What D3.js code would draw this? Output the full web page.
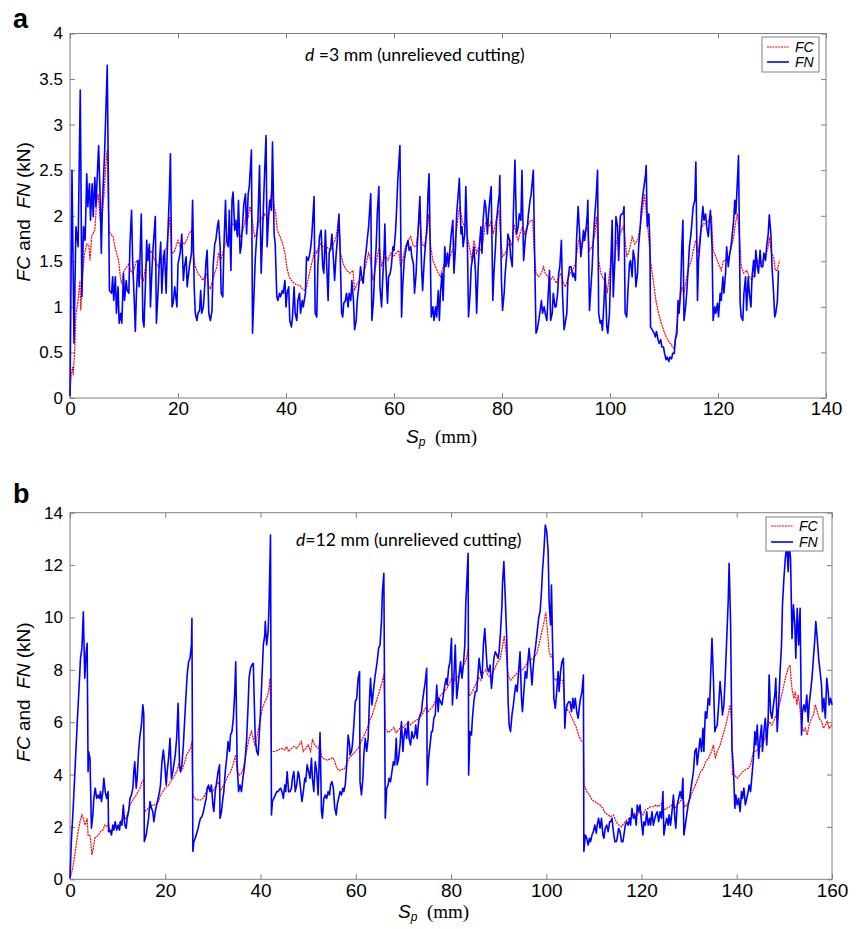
<!DOCTYPE html>
<html><head><meta charset="utf-8">
<script src="https://cdn.jsdelivr.net/npm/d3@7"></script>
<style>body{margin:0;background:#fff}svg{display:block}</style>
</head><body>
<script>
// ---------- DATA (x: Sp in mm, y: force in kN) ----------
const xTicksA = [0,20,40,60,80,100,120,140];
const yTicksA = [0,0.5,1,1.5,2,2.5,3,3.5,4];
const xTicksB = [0,20,40,60,80,100,120,140,160];
const yTicksB = [0,2,4,6,8,10,12,14];
const seriesNames = ["FC","FN"];
const annotA = ["d"," =3 mm (unrelieved cutting)"];
const annotB = ["d","=12 mm (unrelieved cutting)"];

const fnA = [[0,0.02],[0.37,2.5],[0.74,0.6],[1.1,1.88],[1.5,1.66],[1.9,3.38],[2.2,1.11],[2.5,1.88],[2.8,1.73],[3.1,2.46],[3.3,2.10],[3.6,2.35],[3.8,1.95],[4.1,2.35],[4.3,1.99],[4.6,2.42],[4.8,2.10],[5.1,2.50],[5.3,2.77],[5.6,2.17],[5.8,1.59],[6.0,2.13],[6.4,2.68],[6.9,3.65],[7.2,1.80],[7.3,1.18],[7.7,1.15],[7.9,1.33],[8.1,1.07],[8.4,1.33],[8.6,0.93],[8.9,1.22],[9.1,0.82],[9.4,0.93],[9.6,0.82],[9.9,1.37],[10.1,1.07],[10.4,1.29],[10.6,1.18],[10.9,1.15],[11.1,1.69],[11.4,2.06],[11.6,1.51],[11.9,1.07],[12.1,0.73],[12.3,1.15],[12.6,1.51],[12.8,1.22],[13.2,2.02],[13.5,0.85],[13.7,0.78],[14.0,1.29],[14.2,1.73],[14.4,1.51],[14.7,1.69],[14.9,1.00],[15.2,1.44],[15.4,1.66],[15.8,1.99],[16.0,0.82],[16.3,1.15],[16.5,1.44],[16.8,1.71],[17.0,1.15],[17.3,1.51],[17.5,1.62],[17.8,1.15],[18.0,1.59],[18.4,2.24],[18.6,2.68],[18.9,1.00],[19.1,1.04],[19.4,1.22],[19.8,1.00],[20.0,1.47],[20.4,1.59],[20.7,1.80],[21.0,1.29],[21.2,1.44],[21.5,1.55],[21.7,1.22],[22.1,1.44],[22.5,1.59],[22.7,2.17],[23.0,1.22],[23.2,0.93],[23.5,0.85],[23.7,0.93],[24.0,0.96],[24.2,1.18],[24.4,0.93],[24.7,1.00],[24.9,1.18],[25.2,1.51],[25.4,1.62],[25.7,0.93],[26.0,0.85],[26.3,0.96],[26.5,1.44],[26.8,1.69],[27.0,1.73],[27.3,1.88],[27.5,1.95],[27.8,1.66],[28.0,1.15],[28.3,1.11],[28.5,1.66],[28.8,2.17],[29.0,1.73],[29.3,1.66],[29.5,2.06],[29.8,1.40],[30.0,2.17],[30.2,2.26],[30.5,1.84],[30.7,1.95],[31.0,1.77],[31.2,2.17],[31.5,1.59],[31.7,1.66],[32.0,1.95],[32.2,2.13],[32.5,2.24],[32.7,1.80],[33.0,2.24],[33.2,2.32],[33.6,2.72],[33.8,0.71],[34.1,1.18],[34.3,1.51],[34.6,1.80],[34.8,1.95],[35.1,2.55],[35.4,1.37],[35.7,1.88],[35.9,2.24],[36.3,2.88],[36.5,1.66],[36.8,2.02],[37.0,2.17],[37.3,2.06],[37.5,2.81],[37.8,1.80],[38.0,1.69],[38.3,1.11],[38.5,1.07],[38.8,1.15],[39.0,1.11],[39.3,1.18],[39.5,1.15],[39.8,1.29],[40.0,1.00],[40.2,1.15],[40.5,1.22],[40.7,0.85],[41.0,0.78],[41.2,0.89],[41.5,1.22],[41.7,0.93],[42.0,0.85],[42.2,1.07],[42.5,1.15],[42.7,0.93],[43.0,1.07],[43.2,1.00],[43.6,1.15],[43.8,1.55],[44.1,1.51],[44.3,1.55],[44.6,1.66],[44.8,1.80],[45.2,2.21],[45.4,0.93],[45.7,0.89],[45.9,1.44],[46.2,1.77],[46.5,1.84],[46.8,1.44],[47.0,1.37],[47.3,1.84],[47.5,1.51],[47.8,1.07],[48.0,1.59],[48.3,1.66],[48.5,1.80],[48.8,1.51],[49.0,1.29],[49.3,1.59],[49.5,1.73],[49.8,2.02],[50.0,1.66],[50.3,0.93],[50.5,0.89],[50.7,1.04],[51.0,1.07],[51.2,1.15],[51.5,1.00],[51.7,1.15],[52.0,1.07],[52.2,1.29],[52.5,1.07],[52.7,0.75],[53.0,0.85],[53.2,1.07],[53.6,1.29],[53.8,1.44],[54.1,1.29],[54.3,1.26],[54.6,1.51],[54.8,1.59],[55.1,1.77],[55.3,1.88],[55.6,2.17],[55.7,2.24],[55.9,0.85],[56.2,1.07],[56.4,1.37],[56.7,1.66],[56.9,2.02],[57.2,2.32],[57.4,1.22],[57.7,1.00],[57.9,1.29],[58.2,1.66],[58.3,1.91],[58.5,1.44],[58.8,1.04],[59.0,1.33],[59.3,1.37],[59.5,1.44],[59.8,1.66],[60.0,1.62],[60.3,1.84],[60.5,2.10],[60.7,2.39],[61.1,2.77],[61.4,0.89],[61.6,1.22],[61.9,1.51],[62.1,1.59],[62.3,1.66],[62.6,1.73],[62.8,1.62],[63.1,1.66],[63.3,1.55],[63.6,1.47],[63.8,1.15],[64.1,1.37],[64.3,1.66],[64.6,1.99],[64.8,2.21],[65.1,1.44],[65.3,1.18],[65.6,1.51],[65.8,1.66],[66.1,1.88],[66.3,2.24],[66.5,2.46],[66.9,0.89],[67.2,1.00],[67.4,0.85],[67.7,1.00],[67.9,0.89],[68.2,1.18],[68.4,0.85],[68.6,1.15],[68.9,1.37],[69.1,1.07],[69.4,1.66],[69.6,1.44],[69.9,1.59],[70.1,1.44],[70.4,1.66],[70.6,1.80],[70.9,1.95],[71.1,1.37],[71.4,1.66],[71.6,2.02],[71.9,2.24],[72.1,2.41],[72.4,1.80],[72.6,1.88],[72.8,1.66],[73.1,1.80],[73.3,2.32],[73.6,1.66],[73.8,0.89],[74.1,1.15],[74.3,1.44],[74.6,1.55],[74.8,1.66],[75.1,1.37],[75.3,0.93],[75.6,1.44],[75.8,1.66],[76.1,1.88],[76.3,1.59],[76.5,1.95],[76.8,2.17],[77.0,2.10],[77.3,1.80],[77.5,2.02],[77.8,2.21],[78.0,2.32],[78.3,1.07],[78.5,1.37],[78.8,1.66],[79.0,1.95],[79.3,2.13],[79.5,2.24],[79.6,2.44],[79.9,1.29],[80.1,0.96],[80.4,1.15],[80.6,1.37],[80.9,1.59],[81.1,1.80],[81.4,1.73],[81.6,1.55],[81.9,1.44],[82.1,2.02],[82.4,2.61],[82.7,1.80],[83.0,1.88],[83.2,2.02],[83.5,1.95],[83.7,2.50],[84.0,1.51],[84.2,1.66],[84.4,1.80],[84.7,1.88],[84.9,2.02],[85.2,2.17],[85.4,2.24],[85.8,2.50],[86.1,1.37],[86.3,0.71],[86.5,0.74],[86.8,0.85],[87.0,0.93],[87.3,1.07],[87.5,0.93],[87.8,1.00],[88.0,0.93],[88.3,0.85],[88.5,1.07],[88.8,1.40],[89.0,0.85],[89.3,0.93],[89.5,1.15],[89.8,1.00],[90.0,1.00],[90.3,1.15],[90.5,1.37],[90.7,1.44],[91.0,1.73],[91.2,1.15],[91.5,0.75],[91.7,0.82],[92.0,0.93],[92.2,1.29],[92.5,1.44],[92.8,1.44],[93.1,1.33],[93.3,1.37],[93.6,1.29],[93.8,1.73],[94.1,2.10],[94.3,1.88],[94.6,1.55],[94.8,1.66],[95.1,1.84],[95.3,1.73],[95.6,1.88],[95.8,2.02],[95.9,2.17],[96.2,0.96],[96.4,1.15],[96.7,1.44],[96.9,1.73],[97.2,2.02],[97.4,2.17],[97.7,2.50],[97.9,0.93],[98.2,0.82],[98.4,0.85],[98.6,0.74],[98.9,1.07],[99.1,1.37],[99.4,0.78],[99.6,0.71],[99.9,0.93],[100.1,1.37],[100.4,1.95],[100.6,1.11],[100.9,1.51],[101.1,1.99],[101.4,1.88],[101.6,1.51],[101.9,1.99],[102.1,2.02],[102.4,2.02],[102.6,2.10],[102.8,0.93],[103.1,0.89],[103.3,1.15],[103.6,1.47],[103.8,1.51],[104.1,1.33],[104.3,1.62],[104.6,1.51],[104.8,1.22],[105.1,1.37],[105.3,1.66],[105.6,1.88],[105.8,2.06],[106.1,2.24],[106.3,2.32],[106.6,2.46],[106.7,2.55],[106.9,1.88],[107.2,2.02],[107.4,1.66],[107.5,0.78],[107.9,0.74],[108.2,0.71],[108.4,0.67],[108.6,0.73],[108.9,0.64],[109.1,0.60],[109.4,0.64],[109.6,0.56],[109.9,0.56],[110.1,0.49],[110.4,0.42],[110.6,0.45],[110.9,0.40],[111.1,0.45],[111.4,0.43],[111.6,0.49],[111.9,0.49],[112.1,0.64],[112.4,0.71],[112.6,1.07],[112.8,0.93],[113.1,1.22],[113.3,1.66],[113.5,1.95],[113.7,0.85],[114.0,1.00],[114.2,1.15],[114.5,1.44],[114.7,1.66],[115.0,1.80],[115.2,1.95],[115.4,2.10],[115.7,2.17],[115.9,2.59],[116.2,1.07],[116.4,1.51],[116.7,1.73],[116.9,1.88],[117.2,2.10],[117.4,1.95],[117.7,2.02],[117.9,1.88],[118.2,1.77],[118.4,1.95],[118.6,2.06],[118.9,1.66],[119.1,0.85],[119.4,1.00],[119.6,0.93],[119.9,1.04],[120.1,0.89],[120.4,1.15],[120.6,1.07],[120.9,1.33],[121.1,1.15],[121.4,1.37],[121.6,1.66],[121.9,1.44],[122.1,1.55],[122.4,1.66],[122.6,1.77],[122.9,1.95],[123.1,2.17],[123.3,2.02],[123.6,2.39],[123.8,2.66],[124.1,1.04],[124.3,0.89],[124.6,0.85],[124.8,1.15],[125.1,1.33],[125.3,0.96],[125.6,1.33],[125.8,1.15],[126.1,1.00],[126.3,1.33],[126.6,1.51],[126.8,1.33],[127.0,1.62],[127.3,1.44],[127.5,1.37],[127.8,1.62],[128.0,1.44],[128.3,1.44],[128.5,1.59],[128.8,1.51],[129.0,1.66],[129.3,1.80],[129.5,2.01],[129.8,1.80],[130.0,1.44],[130.3,1.15],[130.5,0.89],[130.7,0.93],[131.0,1.07],[131.2,1.40]];

const fcA = [[0,0.05],[0.25,0.27],[0.5,0.34],[0.6,0.25],[0.9,0.56],[1.1,0.93],[1.5,1.07],[1.85,1.29],[2.0,0.96],[2.35,1.37],[2.7,1.59],[3.1,1.69],[3.5,1.68],[3.7,1.51],[4.0,1.77],[4.2,1.80],[4.6,1.84],[4.9,2.13],[5.2,2.24],[5.6,1.95],[5.9,1.95],[6.3,2.24],[6.7,2.61],[6.9,2.72],[7.2,1.84],[7.5,1.80],[8.0,1.77],[8.3,1.66],[8.8,1.55],[9.0,1.51],[9.4,1.29],[9.6,1.26],[10.0,1.40],[10.5,1.44],[10.9,1.47],[11.2,1.40],[11.6,1.37],[12.0,1.44],[12.3,1.51],[12.7,1.47],[13.2,1.33],[13.6,1.29],[14.0,1.44],[14.4,1.55],[14.9,1.62],[15.4,1.55],[15.8,1.51],[16.3,1.44],[16.7,1.47],[17.0,1.51],[17.4,1.59],[17.9,1.66],[18.3,1.88],[18.5,1.99],[18.8,1.59],[19.3,1.60],[19.6,1.66],[20.0,1.73],[20.4,1.66],[20.7,1.71],[21.2,1.69],[21.6,1.73],[22.0,1.80],[22.5,1.84],[22.8,1.59],[23.2,1.44],[23.7,1.37],[24.2,1.33],[24.6,1.29],[24.9,1.33],[25.3,1.37],[25.7,1.22],[26.0,1.20],[26.4,1.29],[26.8,1.37],[27.2,1.44],[27.5,1.59],[27.9,1.51],[28.3,1.59],[28.6,1.66],[29.0,1.73],[29.4,1.80],[29.8,1.88],[30.1,1.91],[30.5,1.88],[30.9,1.84],[31.2,1.80],[31.6,1.77],[32.0,1.84],[32.3,1.91],[32.7,2.02],[33.0,1.99],[33.3,2.10],[33.6,2.02],[34.0,1.84],[34.2,1.77],[34.6,1.80],[34.9,1.91],[35.3,1.99],[35.7,1.95],[36.0,2.02],[36.4,1.99],[36.7,1.95],[37.0,2.13],[37.4,2.32],[37.8,2.10],[38.1,2.02],[38.4,1.84],[38.9,1.77],[39.4,1.69],[39.8,1.59],[40.2,1.42],[40.6,1.33],[41.0,1.29],[41.5,1.26],[42.0,1.24],[42.5,1.24],[43.0,1.20],[43.5,1.18],[43.8,1.22],[44.2,1.33],[44.6,1.44],[44.9,1.51],[45.3,1.62],[45.7,1.59],[46.0,1.66],[46.4,1.69],[46.9,1.66],[47.5,1.66],[48.2,1.62],[48.8,1.69],[49.3,1.77],[49.8,1.99],[50.1,1.59],[50.6,1.47],[51.2,1.40],[51.9,1.37],[52.4,1.40],[52.7,1.18],[53.2,1.26],[53.7,1.29],[54.3,1.33],[54.8,1.47],[55.3,1.59],[55.7,1.51],[56.1,1.29],[56.4,1.37],[56.9,1.55],[57.3,1.66],[57.7,1.44],[58.0,1.51],[58.5,1.55],[58.9,1.51],[59.4,1.59],[59.9,1.55],[60.4,1.59],[60.9,1.62],[61.2,1.44],[61.6,1.51],[62.1,1.66],[62.6,1.73],[63.1,1.77],[63.6,1.66],[64.1,1.66],[64.6,1.91],[64.8,1.95],[65.2,1.69],[65.6,1.66],[66.1,1.80],[66.4,2.02],[66.8,1.66],[67.2,1.51],[67.7,1.44],[68.2,1.37],[68.6,1.33],[69.1,1.44],[69.6,1.51],[70.1,1.47],[70.6,1.59],[71.1,1.66],[71.5,1.80],[71.9,2.02],[72.2,2.10],[72.6,1.95],[73.0,1.88],[73.3,1.91],[73.7,1.73],[74.1,1.62],[74.4,1.51],[74.8,1.73],[75.3,1.59],[75.7,1.66],[76.1,1.62],[76.5,1.73],[76.9,1.91],[77.3,1.95],[77.7,1.88],[78.0,1.95],[78.4,1.80],[78.9,1.95],[79.4,2.06],[79.8,1.73],[80.1,1.55],[80.6,1.59],[81.1,1.66],[81.5,1.73],[81.9,1.66],[82.2,1.91],[82.6,1.80],[83.0,1.73],[83.3,1.80],[83.8,1.88],[84.2,1.80],[84.6,1.88],[84.9,1.91],[85.3,1.95],[85.7,1.95],[85.9,1.66],[86.3,1.37],[86.8,1.33],[87.3,1.37],[87.7,1.44],[88.0,1.37],[88.5,1.33],[88.9,1.29],[89.4,1.33],[89.8,1.29],[90.1,1.26],[90.5,1.33],[90.9,1.37],[91.4,1.26],[91.7,1.22],[92.1,1.29],[92.6,1.37],[93.1,1.40],[93.6,1.48],[94.0,1.66],[94.3,1.75],[94.8,1.66],[95.3,1.80],[95.8,1.88],[96.2,1.62],[96.7,1.66],[97.2,1.80],[97.5,1.99],[97.9,1.51],[98.3,1.37],[98.6,1.33],[99.1,1.29],[99.5,1.15],[99.9,1.37],[100.3,1.55],[100.7,1.40],[101.1,1.66],[101.5,1.80],[101.9,1.80],[102.4,1.88],[102.7,1.80],[103.1,1.55],[103.6,1.62],[104.1,1.77],[104.6,1.69],[105.1,1.73],[105.6,1.88],[106.1,2.10],[106.4,2.24],[106.8,1.99],[107.2,1.73],[107.5,1.51],[108.0,1.29],[108.5,1.07],[109.0,0.93],[109.5,0.82],[109.9,0.75],[110.4,0.67],[110.9,0.62],[111.4,0.58],[111.9,0.54],[112.2,0.71],[112.6,0.93],[113.0,1.07],[113.3,1.22],[113.7,1.15],[114.1,1.29],[114.6,1.44],[115.1,1.51],[115.4,1.62],[115.9,1.73],[116.3,1.59],[116.8,1.84],[117.3,1.91],[117.8,1.91],[118.3,1.95],[118.8,1.99],[119.1,1.62],[119.6,1.55],[120.1,1.47],[120.6,1.40],[121.0,1.51],[121.5,1.51],[122.0,1.55],[122.5,1.66],[122.9,1.77],[123.2,1.91],[123.6,2.02],[124.0,1.77],[124.3,1.44],[124.8,1.37],[125.3,1.40],[125.8,1.33],[126.3,1.29],[126.8,1.37],[127.3,1.51],[127.8,1.47],[128.3,1.51],[128.8,1.55],[129.3,1.66],[129.5,1.77],[129.9,1.59],[130.3,1.55],[130.6,1.40],[131.0,1.40],[131.4,1.51]];

const fnB = [[0,0.04],[0.28,1.44],[0.7,2.84],[1.1,4.37],[1.5,5.89],[2.0,7.68],[2.2,8.44],[2.5,8.82],[2.8,10.22],[2.9,9.33],[3.1,7.68],[3.4,8.69],[3.6,9.01],[3.8,4.11],[3.9,4.88],[4.2,4.62],[4.5,1.95],[4.8,2.46],[5.0,3.09],[5.3,3.48],[5.6,3.09],[5.9,3.22],[6.2,3.09],[6.4,3.35],[6.6,2.97],[6.9,3.35],[7.1,3.86],[7.4,3.35],[7.7,3.09],[8.0,3.35],[8.1,1.82],[8.4,1.88],[8.7,1.69],[9.0,2.07],[9.2,1.88],[9.5,2.20],[9.8,1.88],[10.1,2.07],[10.4,1.88],[10.6,2.20],[10.9,2.07],[11.2,2.84],[11.5,2.07],[11.8,1.95],[12.0,2.33],[12.3,2.58],[12.6,3.09],[12.9,3.22],[13.2,3.48],[13.4,4.11],[13.6,4.49],[13.9,3.48],[14.1,3.86],[14.4,4.88],[14.7,5.51],[15.0,5.89],[15.3,6.66],[15.5,6.28],[15.6,1.44],[16.0,1.69],[16.2,1.95],[16.5,2.33],[16.8,2.97],[17.1,2.71],[17.4,2.58],[17.6,2.20],[17.9,2.58],[18.2,2.84],[18.5,3.09],[18.8,3.35],[19.0,3.60],[19.3,4.49],[19.6,4.94],[19.9,4.37],[20.2,3.60],[20.4,4.11],[20.7,4.62],[21.0,5.38],[21.3,3.86],[21.6,4.11],[21.8,4.37],[22.1,4.75],[22.4,5.38],[22.7,6.72],[23.0,4.37],[23.2,4.11],[23.5,4.37],[23.8,5.13],[24.1,6.15],[24.4,7.17],[24.6,7.80],[24.9,8.31],[25.2,8.44],[25.5,8.95],[25.6,9.97],[25.8,1.06],[26.0,1.44],[26.3,1.57],[26.6,1.76],[26.9,1.95],[27.2,2.20],[27.4,2.33],[27.7,2.39],[28.0,2.58],[28.3,2.84],[28.6,3.09],[28.8,3.48],[29.1,3.60],[29.4,3.35],[29.7,3.60],[30.0,2.84],[30.2,2.58],[30.5,3.35],[30.8,3.73],[31.1,4.11],[31.4,4.37],[31.5,2.33],[31.8,2.58],[32.1,3.09],[32.3,3.35],[32.6,4.11],[32.9,4.62],[33.2,5.26],[33.5,4.88],[33.7,5.51],[34.0,5.64],[34.3,6.15],[34.6,7.17],[34.8,8.31],[35.1,4.37],[35.4,3.35],[35.7,3.60],[36.0,3.35],[36.3,3.86],[36.5,4.11],[36.8,4.62],[37.1,5.38],[37.4,6.66],[37.6,7.68],[37.9,8.06],[38.2,8.18],[38.5,8.25],[38.6,7.42],[38.9,5.38],[39.2,4.88],[39.5,4.75],[39.7,5.38],[40.0,6.40],[40.3,7.68],[40.6,8.95],[40.9,9.33],[41.0,9.84],[41.3,8.95],[41.6,9.46],[41.8,10.48],[42.1,13.15],[42.3,2.46],[42.5,2.97],[42.8,3.09],[43.1,3.22],[43.4,3.35],[43.7,3.35],[43.9,3.41],[44.2,3.48],[44.5,3.35],[44.8,3.09],[45.1,3.60],[45.3,3.35],[45.6,4.11],[45.9,3.35],[46.2,3.35],[46.5,3.48],[46.7,3.86],[47.0,4.11],[47.3,3.35],[47.6,3.60],[47.9,4.11],[48.1,3.98],[48.4,3.48],[48.7,2.97],[49.0,3.35],[49.3,3.86],[49.5,3.73],[49.8,4.37],[50.1,4.11],[50.4,3.86],[50.7,4.62],[50.9,3.86],[51.2,3.35],[51.5,4.49],[51.8,4.11],[52.1,3.22],[52.5,5.6],[52.8,2.6],[53.0,2.33],[53.3,3.09],[53.6,3.22],[53.9,3.09],[54.2,3.35],[54.5,3.22],[54.7,3.60],[55.0,3.73],[55.3,3.48],[55.6,2.71],[55.9,2.46],[56.1,2.84],[56.4,3.09],[56.7,3.35],[57.0,3.22],[57.3,3.48],[57.5,3.35],[57.8,3.60],[58.1,4.37],[58.4,5.51],[58.7,5.13],[58.8,4.75],[59.1,4.88],[59.3,5.13],[59.6,5.89],[59.9,6.78],[60.2,6.91],[60.5,7.68],[60.8,7.93],[60.9,3.73],[61.2,3.22],[61.5,3.86],[61.7,4.75],[62.0,5.38],[62.3,4.88],[62.6,5.38],[62.9,6.91],[63.1,7.68],[63.4,6.66],[63.7,7.17],[64.0,7.68],[64.2,7.93],[64.5,8.31],[64.8,8.82],[65.1,8.95],[65.4,9.84],[65.6,10.99],[65.9,11.69],[66.2,2.33],[66.5,3.48],[66.8,3.60],[67.0,3.86],[67.3,3.73],[67.6,4.11],[67.9,4.49],[68.2,4.37],[68.5,5.38],[68.7,4.37],[69.0,4.62],[69.3,5.13],[69.6,6.02],[69.9,4.88],[70.1,5.38],[70.4,5.77],[70.7,5.38],[71.0,6.02],[71.2,5.38],[71.5,5.13],[71.8,5.64],[72.1,5.38],[72.4,5.51],[72.6,5.89],[72.9,5.38],[73.2,6.02],[73.5,6.28],[73.8,6.40],[74.0,6.78],[74.3,7.17],[74.6,7.55],[74.9,8.06],[75.0,3.60],[75.3,4.62],[75.6,5.13],[75.9,5.64],[76.1,5.64],[76.4,6.15],[76.7,6.28],[77.0,7.42],[77.3,6.40],[77.5,6.91],[77.8,6.78],[78.1,6.66],[78.4,7.04],[78.7,7.42],[79.0,7.68],[79.2,7.42],[79.5,8.06],[79.8,8.31],[80.1,9.20],[80.3,6.66],[80.6,7.68],[80.9,8.95],[81.2,6.91],[81.5,7.42],[81.7,7.80],[82.0,8.31],[82.3,7.68],[82.6,8.18],[82.9,8.95],[83.1,10.48],[83.6,12.45],[83.7,3.98],[84.0,5.64],[84.3,5.51],[84.5,6.15],[84.8,6.78],[85.1,7.17],[85.4,7.17],[85.7,7.93],[85.9,8.44],[86.2,7.93],[86.5,7.68],[86.8,8.95],[87.1,9.58],[87.3,8.95],[87.6,8.06],[87.9,7.93],[88.2,8.18],[88.5,7.29],[88.7,7.68],[89.0,8.44],[89.3,8.69],[89.6,8.57],[89.9,8.44],[90.1,8.69],[90.4,9.46],[90.7,10.48],[90.8,11.24],[91.1,12.13],[91.4,10.73],[91.7,9.20],[92.0,6.78],[92.2,5.89],[92.5,5.64],[92.8,6.28],[93.1,6.66],[93.4,7.17],[93.6,7.42],[93.9,7.17],[94.2,7.93],[94.5,8.69],[94.8,6.91],[95.0,6.40],[95.3,7.17],[95.6,7.93],[95.9,7.68],[96.2,8.44],[96.4,8.82],[96.7,8.18],[97.0,7.42],[97.3,8.18],[97.6,8.69],[97.8,8.95],[98.1,9.46],[98.4,9.97],[98.7,10.22],[99.0,10.99],[99.2,11.75],[99.5,12.51],[99.8,13.53],[100.1,13.28],[100.4,12.51],[100.6,10.60],[100.9,9.71],[101.1,11.24],[101.3,9.20],[101.6,6.91],[101.9,6.53],[102.2,7.17],[102.5,7.93],[102.7,7.17],[103.0,7.93],[103.3,8.31],[103.6,8.44],[103.9,5.77],[104.1,6.40],[104.4,6.66],[104.7,6.78],[105.0,6.78],[105.3,6.40],[105.6,6.91],[105.8,6.53],[106.1,6.91],[106.4,6.40],[106.7,6.15],[107.0,6.66],[107.2,6.91],[107.5,7.17],[107.8,7.80],[107.9,1.06],[108.2,1.69],[108.5,1.57],[108.8,1.31],[109.1,1.57],[109.3,1.44],[109.6,1.69],[109.9,1.82],[110.2,2.07],[110.5,1.76],[110.7,2.07],[111.0,2.33],[111.3,1.95],[111.6,2.33],[111.9,1.69],[112.1,1.57],[112.4,1.95],[112.7,2.07],[113.0,1.82],[113.3,2.20],[113.5,2.20],[113.8,2.33],[114.1,1.82],[114.4,1.44],[114.7,1.44],[114.9,1.57],[115.2,1.95],[115.5,1.82],[115.8,1.44],[116.1,1.44],[116.3,1.69],[116.6,2.07],[116.9,2.20],[117.2,2.07],[117.5,2.33],[117.7,2.07],[118.0,2.71],[118.3,2.33],[118.6,2.46],[118.9,2.07],[119.1,2.84],[119.4,2.58],[119.7,2.84],[120.0,2.20],[120.3,1.69],[120.5,2.20],[120.8,2.07],[121.1,2.58],[121.4,2.07],[121.7,2.33],[121.9,2.07],[122.2,2.58],[122.5,2.07],[122.8,2.33],[123.0,2.46],[123.3,2.58],[123.6,2.20],[123.9,2.58],[124.2,2.33],[124.5,3.35],[124.7,1.69],[125.0,2.07],[125.3,2.33],[125.6,2.07],[125.8,2.46],[126.1,2.07],[126.4,2.58],[126.7,3.22],[127.0,2.33],[127.2,1.95],[127.5,2.84],[127.8,3.09],[128.1,3.35],[128.4,3.09],[128.7,3.86],[128.9,1.69],[129.2,2.07],[129.5,2.46],[129.8,2.84],[130.1,3.09],[130.3,3.35],[130.6,3.73],[130.9,4.11],[131.2,4.88],[131.5,5.00],[131.7,4.37],[132.0,4.88],[132.3,5.38],[132.6,4.88],[132.9,5.77],[133.1,4.88],[133.4,6.40],[133.7,6.15],[134.0,6.91],[134.3,6.66],[134.5,7.68],[134.8,9.20],[135.1,7.68],[135.4,5.64],[135.6,5.77],[135.9,5.89],[136.2,6.66],[136.5,7.55],[136.8,6.91],[137.0,6.28],[137.3,6.66],[137.6,7.80],[137.9,9.20],[138.2,10.60],[138.4,12.07],[138.7,9.84],[139.0,5.00],[139.3,4.24],[139.6,2.71],[139.8,3.22],[140.1,2.84],[140.4,3.09],[140.7,2.58],[141.0,3.35],[141.2,3.09],[141.5,3.48],[141.8,2.84],[142.1,3.09],[142.4,3.35],[142.6,3.60],[142.9,3.35],[143.2,3.98],[143.5,4.62],[143.8,5.64],[144.0,5.13],[144.3,5.89],[144.6,4.62],[144.9,5.38],[145.2,5.89],[145.4,4.88],[145.7,5.64],[146.0,6.15],[146.3,5.13],[146.6,6.15],[146.8,7.80],[147.1,6.40],[147.4,6.15],[147.7,6.66],[148.0,7.04],[148.2,7.68],[148.5,5.64],[148.8,6.66],[149.1,7.93],[149.4,8.95],[149.6,10.48],[149.9,11.49],[150.2,12.26],[150.5,12.77],[150.8,11.75],[151.0,12.77],[151.3,12.26],[151.6,9.20],[151.9,10.48],[152.2,9.71],[152.4,8.44],[152.7,10.35],[153.0,8.95],[153.3,10.35],[153.6,5.51],[153.8,6.40],[154.1,6.66],[154.4,6.40],[154.7,7.04],[155.0,6.02],[155.2,6.66],[155.5,7.17],[155.8,7.68],[156.1,8.44],[156.4,9.20],[156.6,9.84],[156.9,9.20],[157.2,8.44],[157.5,7.93],[157.8,7.42],[158.0,6.40],[158.3,6.91],[158.6,6.15],[158.9,7.68],[159.2,7.17],[159.4,6.66],[159.7,6.91],[160.0,6.66]];

const fcB = [[0,0.04],[0.4,0.29],[0.8,0.67],[1.3,1.31],[1.7,1.82],[2.1,2.20],[2.5,2.46],[2.8,2.33],[3.1,2.07],[3.4,2.20],[3.6,2.33],[3.8,1.69],[4.1,1.69],[4.3,1.57],[4.6,0.93],[4.9,1.18],[5.2,1.57],[5.6,1.63],[6.0,1.69],[6.4,1.82],[6.9,1.88],[7.3,2.07],[7.7,2.01],[8.1,2.14],[8.4,1.82],[8.8,1.88],[9.2,1.95],[9.7,2.01],[10.1,1.95],[10.5,2.20],[10.9,2.27],[11.3,2.33],[11.8,2.33],[12.2,2.58],[12.6,2.84],[13.0,2.97],[13.4,3.09],[13.9,3.22],[14.3,3.35],[14.7,3.48],[15.1,3.73],[15.5,3.79],[15.7,2.58],[16.1,2.65],[16.5,2.71],[16.9,2.77],[17.4,2.84],[17.8,2.84],[18.2,2.90],[18.6,2.97],[19.0,3.22],[19.5,3.35],[19.9,3.48],[20.3,3.54],[20.7,3.60],[21.1,3.73],[21.6,3.86],[22.0,3.98],[22.4,4.11],[22.8,4.37],[23.2,4.11],[23.7,4.24],[24.1,4.49],[24.5,4.75],[24.9,4.88],[25.3,5.00],[25.6,5.26],[25.8,3.22],[26.2,3.09],[26.6,3.03],[27.0,3.03],[27.4,3.03],[27.9,3.09],[28.3,3.22],[28.7,3.35],[29.1,3.48],[29.5,3.35],[30.0,3.35],[30.4,3.48],[30.8,3.60],[31.2,3.73],[31.5,3.35],[31.9,3.48],[32.3,3.60],[32.8,3.79],[33.2,3.98],[33.6,4.05],[34.0,4.24],[34.4,4.49],[34.8,4.75],[35.1,4.11],[35.6,3.98],[36.0,4.05],[36.4,4.24],[36.8,4.62],[37.2,5.00],[37.6,5.38],[38.1,5.64],[38.3,5.51],[38.8,5.13],[39.2,5.38],[39.6,5.77],[40.0,6.15],[40.4,6.53],[40.9,6.78],[41.3,6.91],[41.7,7.17],[42.0,7.68],[42.3,4.88],[43.0,4.88],[43.7,4.94],[44.4,5.00],[45.1,4.94],[45.5,5.07],[45.9,4.88],[46.5,5.00],[47.0,5.07],[47.6,5.00],[48.1,5.13],[48.6,5.26],[49.0,4.88],[49.5,5.00],[50.0,5.13],[50.5,4.88],[50.9,5.32],[51.4,5.13],[52.1,5.0],[52.5,5.2],[52.8,4.7],[53.3,4.6],[54.0,4.55],[54.6,4.6],[55.2,4.65],[55.6,4.5],[56.0,4.25],[56.5,4.15],[57.0,4.2],[57.5,4.2],[58.0,4.35],[58.5,4.6],[59.0,4.7],[59.5,4.8],[60.0,4.9],[60.5,5.0],[61.0,5.2],[61.5,5.4],[62.0,5.6],[62.5,5.8],[63.0,6.1],[63.5,6.3],[64.0,6.6],[64.5,6.9],[65.0,7.2],[65.5,7.5],[65.9,7.85],[66.2,5.75],[66.8,5.6],[67.5,5.7],[68.0,5.8],[68.5,5.6],[69.0,5.7],[69.5,5.85],[70.0,5.8],[70.5,5.9],[71.0,6.0],[71.5,5.9],[72.0,6.0],[72.5,6.05],[73.0,6.1],[73.5,6.2],[74.0,6.3],[74.5,6.5],[74.9,6.6],[75.2,6.4],[75.7,6.5],[76.2,6.6],[76.7,6.8],[77.2,6.9],[77.7,7.0],[78.2,7.1],[78.7,7.2],[79.2,7.3],[79.7,7.5],[80.2,7.7],[80.7,7.6],[81.2,7.7],[81.7,7.8],[82.2,8.0],[82.7,8.2],[83.2,8.4],[83.6,8.8],[83.8,7.0],[84.3,7.1],[84.8,7.3],[85.3,7.5],[85.8,7.7],[86.3,7.6],[86.8,7.9],[87.3,8.0],[87.8,7.8],[88.3,7.7],[88.8,7.9],[89.3,8.1],[89.8,8.3],[90.3,8.4],[90.8,8.9],[91.2,9.3],[91.6,8.6],[92.0,7.8],[92.5,7.6],[93.0,7.7],[93.5,7.8],[94.0,7.9],[94.5,8.0],[95.0,8.0],[95.5,8.1],[96.0,8.3],[96.5,8.4],[97.0,8.4],[97.5,8.5],[98.0,8.6],[98.5,9.0],[99.0,9.4],[99.5,9.8],[99.9,10.2],[100.3,9.4],[100.6,8.7],[101.0,8.5],[101.3,8.6],[101.6,7.7],[102.0,7.6],[102.5,7.7],[103.0,7.6],[103.5,7.6],[103.9,6.6],[104.3,6.5],[104.8,6.4],[105.3,6.2],[105.8,6.0],[106.3,5.8],[106.8,5.5],[107.3,5.3],[107.8,5.25],[107.95,3.6],[108.5,3.35],[109.1,3.22],[109.6,3.03],[110.2,2.97],[110.7,2.90],[111.3,2.84],[111.9,2.71],[112.4,2.52],[113.0,2.46],[113.5,2.39],[114.1,2.46],[114.7,2.20],[115.2,2.07],[115.8,2.01],[116.3,2.14],[116.9,2.27],[117.5,2.33],[118.0,2.39],[118.6,2.52],[119.1,2.46],[119.7,2.58],[120.3,2.46],[120.8,2.65],[121.4,2.71],[121.9,2.77],[122.5,2.77],[123.1,2.84],[123.6,2.77],[124.2,2.90],[124.7,2.65],[125.3,2.71],[125.9,2.77],[126.4,2.84],[127.0,2.71],[127.5,2.84],[128.1,2.97],[128.7,3.09],[129.1,2.77],[129.6,2.84],[130.2,3.09],[130.7,3.35],[131.3,3.60],[131.9,3.86],[132.4,4.11],[133.0,4.24],[133.5,4.49],[134.1,4.62],[134.7,4.88],[135.1,5.13],[135.5,4.62],[135.9,4.88],[136.5,5.13],[136.9,5.38],[137.3,5.64],[137.7,5.89],[138.2,6.28],[138.6,6.66],[138.9,6.02],[139.1,3.98],[139.6,3.98],[140.1,3.86],[140.7,3.98],[141.2,4.11],[141.8,4.18],[142.4,4.24],[142.9,4.37],[143.5,4.88],[144.0,4.88],[144.6,5.00],[145.2,5.13],[145.7,5.26],[146.3,5.64],[146.8,6.02],[147.4,5.89],[148.0,6.15],[148.5,6.40],[149.1,6.78],[149.6,7.17],[150.2,7.68],[150.8,8.06],[151.2,8.18],[151.5,7.42],[151.7,7.17],[152.0,6.91],[152.3,7.17],[152.6,6.66],[152.9,7.04],[153.2,6.66],[153.6,5.89],[154.0,5.64],[154.4,5.77],[154.8,5.51],[155.2,5.89],[155.7,6.15],[156.1,6.28],[156.5,6.66],[156.9,6.40],[157.3,6.15],[157.8,6.02],[158.2,5.77],[158.6,5.89],[159.0,6.02],[159.4,5.77],[160.0,5.89]];

// ---------- DRAWING ----------
const svg = d3.select("body").append("svg").attr("width",856).attr("height",929);
const gray = "#7f7f7f";
const tickFont = "'Liberation Sans', Arial, sans-serif";

function panel(cfg){
  const x = d3.scaleLinear().domain(cfg.xDomain).range([cfg.left, cfg.right]);
  const y = d3.scaleLinear().domain(cfg.yDomain).range([cfg.bottom, cfg.top]);
  const g = svg.append("g");

  g.append("rect").attr("x",cfg.left).attr("y",cfg.top)
    .attr("width",cfg.right-cfg.left).attr("height",cfg.bottom-cfg.top)
    .attr("fill","none").attr("stroke",gray).attr("stroke-width",1);

  const styleAxis = (sel)=>{
    sel.select(".domain").remove();
    sel.selectAll(".tick line").attr("stroke",gray);
    sel.selectAll(".tick text").attr("fill","#000").attr("font-family",tickFont).attr("font-size",17);
  };
  g.append("g").attr("transform",`translate(0,${cfg.bottom})`)
    .call(d3.axisBottom(x).tickValues(cfg.xTicks).tickFormat(d3.format("d")).tickSizeInner(-5).tickSizeOuter(0).tickPadding(4))
    .call(styleAxis)
    .call(s=>s.selectAll(".tick text").attr("font-size",19).attr("font-family","'Liberation Sans Narrow', 'Liberation Sans', Arial, sans-serif"));
  g.append("g").attr("transform",`translate(0,${cfg.top})`)
    .call(d3.axisTop(x).tickValues(cfg.xTicks).tickFormat("").tickSizeInner(-5).tickSizeOuter(0))
    .call(styleAxis);
  g.append("g").attr("transform",`translate(${cfg.left},0)`)
    .call(d3.axisLeft(y).tickValues(cfg.yTicks).tickFormat(d3.format("~g")).tickSizeInner(-5).tickSizeOuter(0).tickPadding(7))
    .call(styleAxis);
  g.append("g").attr("transform",`translate(${cfg.right},0)`)
    .call(d3.axisRight(y).tickValues(cfg.yTicks).tickFormat("").tickSizeInner(-5).tickSizeOuter(0))
    .call(styleAxis);

  const line = d3.line().x(d=>x(d[0])).y(d=>y(d[1]));
  g.append("path").datum(cfg.fc).attr("d",line).attr("fill","none")
    .attr("stroke","#ff0000").attr("stroke-width",1.2).attr("stroke-dasharray","2,0.8");
  g.append("path").datum(cfg.fn).attr("d",line).attr("fill","none")
    .attr("stroke","#0000ff").attr("stroke-width",1.6).attr("stroke-linejoin","round");

  svg.append("text").attr("x",13).attr("y",cfg.letterY).text(cfg.letter)
    .attr("font-family","'Liberation Sans', Arial, sans-serif").attr("font-weight","bold").attr("font-size",27);

  const midY = (cfg.top+cfg.bottom)/2 - 4;
  const yt = svg.append("text").attr("transform",`translate(${cfg.yTitleX},${midY}) rotate(-90)`)
    .attr("text-anchor","middle").attr("font-family","'Liberation Sans', Arial, sans-serif").attr("font-size",19);
  yt.append("tspan").attr("font-style","italic").text("FC");
  yt.append("tspan").text("\u00a0and\u00a0\u00a0");
  yt.append("tspan").attr("font-style","italic").text("FN");
  yt.append("tspan").text("\u00a0(kN)");

  const xt = svg.append("text").attr("x",cfg.xTitleX).attr("y",cfg.xTitleY).attr("font-size",19);
  xt.append("tspan").attr("font-family","'Liberation Sans', Arial, sans-serif").attr("font-style","italic").text("S");
  xt.append("tspan").attr("font-family","'Liberation Sans', Arial, sans-serif").attr("font-style","italic").attr("font-size",12).attr("dy",3).text("p");
  xt.append("tspan").attr("font-family","'Liberation Serif', 'Times New Roman', serif").attr("dy",-3).text("\u00a0 (mm)");

  const an = svg.append("text").attr("x",cfg.annX).attr("y",cfg.annY)
    .attr("font-family","Lato, 'Open Sans', sans-serif").attr("font-size",17.6);
  an.append("tspan").attr("font-style","italic").text(cfg.ann[0]);
  an.append("tspan").text(cfg.ann[1]);

  const L = cfg.legend;
  const lg = svg.append("g");
  lg.append("rect").attr("x",L.x).attr("y",L.y).attr("width",L.w).attr("height",L.h)
    .attr("fill","#fff").attr("stroke",gray).attr("stroke-width",1);
  const rows = [{n:seriesNames[0],c:"#ff0000",dash:"2,0.8",w:1.2},{n:seriesNames[1],c:"#0000ff",dash:null,w:1.6}];
  rows.forEach((r,i)=>{
    const yy = L.y + L.r0 + i*L.dy;
    lg.append("line").attr("x1",L.x+5).attr("x2",L.x+27).attr("y1",yy).attr("y2",yy)
      .attr("stroke",r.c).attr("stroke-width",r.w).attr("stroke-dasharray",r.dash);
    lg.append("text").attr("x",L.x+33).attr("y",yy+4.5).text(r.n)
      .attr("font-family","'Liberation Sans', Arial, sans-serif").attr("font-style","italic").attr("font-size",14);
  });
}

panel({left:70,right:826,top:33.5,bottom:398,xDomain:[0,140],yDomain:[0,4],
  xTicks:xTicksA,yTicks:yTicksA,fc:fcA,fn:fnA,letter:"a",letterY:28,yTitleX:30,
  xTitleX:406,xTitleY:443,ann:annotA,annX:305,annY:61,
  legend:{x:762,y:37,w:57,h:35,r0:10,dy:15}});

panel({left:70,right:832,top:512.7,bottom:879.3,xDomain:[0,160],yDomain:[0,14],
  xTicks:xTicksB,yTicks:yTicksB,fc:fcB,fn:fnB,letter:"b",letterY:503,yTitleX:30,
  xTitleX:398,xTitleY:918,ann:annotB,annX:296,annY:546,
  legend:{x:766,y:517,w:57,h:34,r0:9,dy:16}});
</script>
</body></html>
